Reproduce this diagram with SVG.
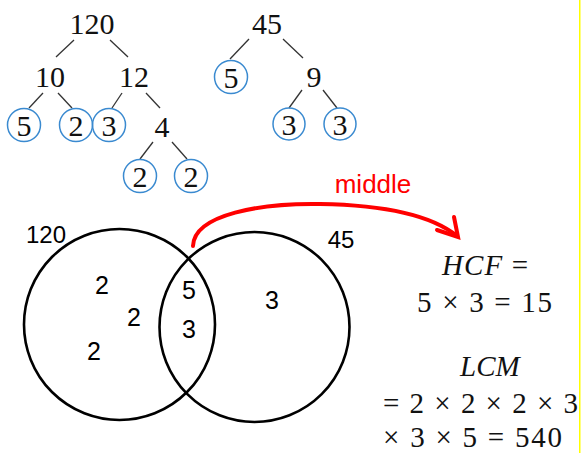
<svg xmlns="http://www.w3.org/2000/svg" width="581" height="453" viewBox="0 0 581 453">
<style>
.t{font-family:"Liberation Serif","Times New Roman",serif;font-size:30px;fill:#111;text-anchor:middle}
.c{fill:none;stroke:#3a8ad0;stroke-width:1.5}
.e{stroke:#333;stroke-width:1.3}
.v{fill:none;stroke:#000;stroke-width:2.6}
.s{font-family:"Liberation Sans",Arial,sans-serif;fill:#000;text-anchor:middle}
.m{font-family:"Liberation Serif","Times New Roman",serif;font-size:29px;fill:#111}
.i{font-style:italic}
</style>
<rect width="581" height="453" fill="#fff"/>
<rect x="579" y="0" width="1.5" height="453" fill="#ffff00"/>
<g id="connectors">
<line class="e" x1="74" y1="40" x2="56" y2="57"/>
<line class="e" x1="110" y1="40" x2="128" y2="57"/>
<line class="e" x1="43" y1="93" x2="29" y2="108"/>
<line class="e" x1="58" y1="93" x2="72" y2="108"/>
<line class="e" x1="122" y1="93" x2="112" y2="108"/>
<line class="e" x1="146" y1="93" x2="160" y2="108"/>
<line class="e" x1="153" y1="142" x2="140" y2="159"/>
<line class="e" x1="172" y1="142" x2="187" y2="159"/>
<line class="e" x1="249" y1="39" x2="230" y2="59"/>
<line class="e" x1="283" y1="39" x2="303" y2="58"/>
<line class="e" x1="302" y1="90" x2="289" y2="108"/>
<line class="e" x1="323" y1="90" x2="337" y2="108"/>
<path id="arrow" d="M193,246 C194,214 262,203 320,204 C380,205 430,214 457,236" fill="none" stroke="#ff0000" stroke-width="4" stroke-linecap="round"/>
<path d="M454,217 L458,237 L437,230" fill="none" stroke="#ff0000" stroke-width="4" stroke-linecap="round" stroke-linejoin="miter"/>
</g>
<g id="n120"><text class="t" x="92" y="34">120</text></g>
<g id="n10"><text class="t" x="50" y="87">10</text></g>
<g id="n12"><text class="t" x="134" y="87">12</text></g>
<g id="n5a"><circle class="c" cx="24" cy="125" r="16.5"/><text class="t" x="24" y="136">5</text></g>
<g id="n2a"><circle class="c" cx="76" cy="125" r="16.5"/><text class="t" x="76" y="136">2</text></g>
<g id="n3a"><circle class="c" cx="109" cy="125" r="16.5"/><text class="t" x="109" y="136">3</text></g>
<g id="n4"><text class="t" x="162" y="137">4</text></g>
<g id="n2b"><circle class="c" cx="140" cy="176" r="16.5"/><text class="t" x="140" y="187">2</text></g>
<g id="n2c"><circle class="c" cx="191" cy="176" r="16.5"/><text class="t" x="191" y="187">2</text></g>
<g id="n45"><text class="t" x="267" y="34">45</text></g>
<g id="n5b"><circle class="c" cx="231" cy="77" r="16.5"/><text class="t" x="231" y="88">5</text></g>
<g id="n9"><text class="t" x="314" y="87">9</text></g>
<g id="n3b"><circle class="c" cx="289" cy="124" r="16"/><text class="t" x="289" y="135">3</text></g>
<g id="n3c"><circle class="c" cx="340" cy="124" r="16"/><text class="t" x="340" y="135">3</text></g>
<g id="venn">
<circle class="v" cx="119.5" cy="324.5" r="95.5"/>
<circle class="v" cx="254.5" cy="327" r="95"/>
<text class="s" x="46" y="243" font-size="24">120</text>
<text class="s" x="341" y="248" font-size="24">45</text>
<text class="s" x="102" y="294" font-size="25">2</text>
<text class="s" x="134" y="326" font-size="25">2</text>
<text class="s" x="94" y="360" font-size="25">2</text>
<text class="s" x="189" y="299" font-size="25">5</text>
<text class="s" x="189" y="338" font-size="25">3</text>
<text class="s" x="272" y="309" font-size="25">3</text>
</g>
<g id="label-middle"><text class="s" x="373" y="193" font-size="26" fill="#ff0000" style="fill:#ff0000">middle</text></g>
<g id="math">
<text class="m" x="442" y="275" textLength="86" lengthAdjust="spacing"><tspan class="i">HCF</tspan> =</text>
<text class="m" x="417" y="312" textLength="135" lengthAdjust="spacing">5 × 3 = 15</text>
<text class="m i" x="460" y="376">LCM</text>
<text class="m" x="383" y="413" textLength="195" lengthAdjust="spacing">= 2 × 2 × 2 × 3</text>
<text class="m" x="383" y="447" textLength="179" lengthAdjust="spacing">× 3 × 5 = 540</text>
</g>
</svg>
